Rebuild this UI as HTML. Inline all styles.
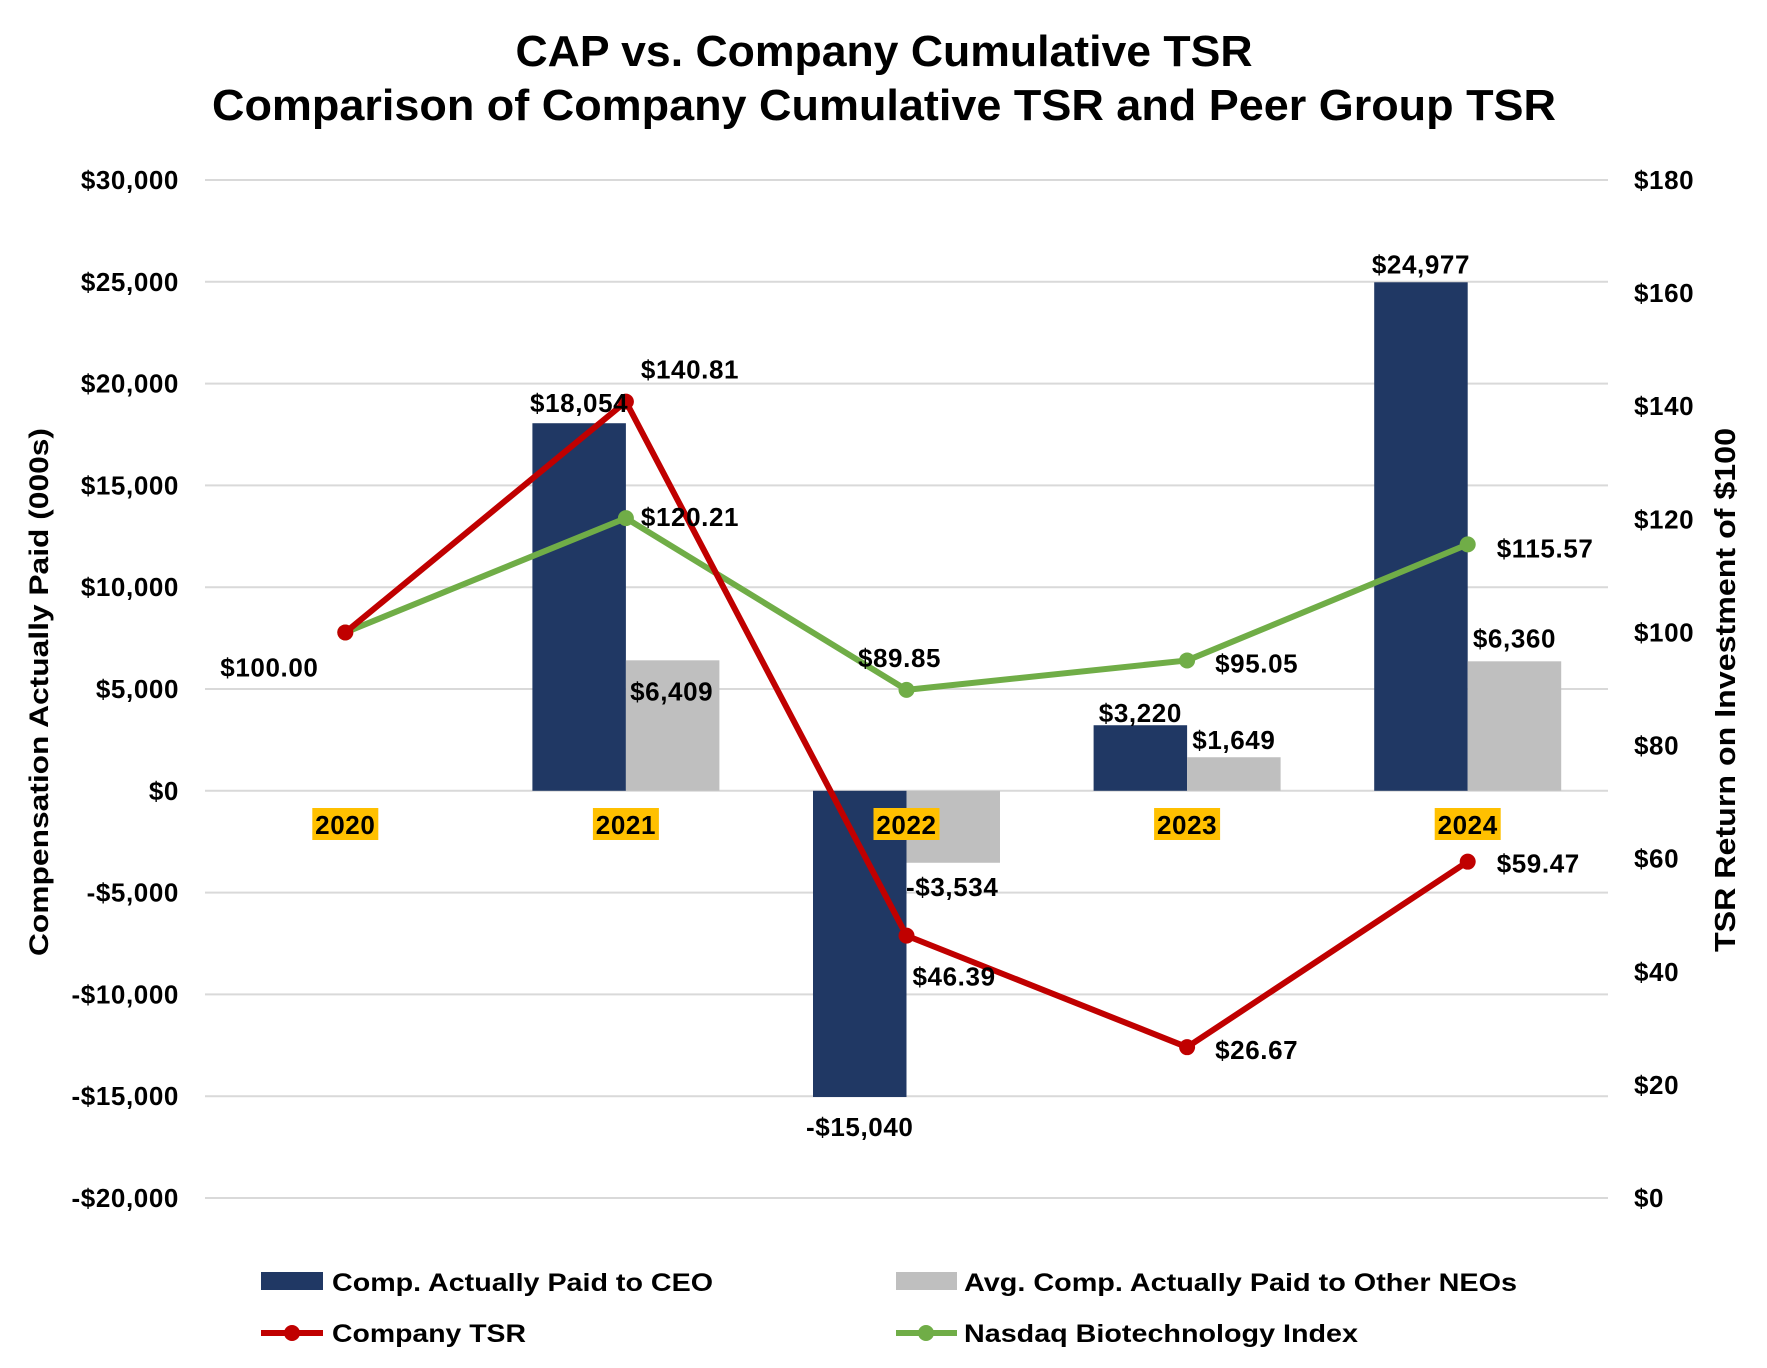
<!DOCTYPE html>
<html><head><meta charset="utf-8"><style>
html,body{margin:0;padding:0;background:#fff;}
svg{display:block;font-family:"Liberation Sans",Arial,sans-serif;font-weight:bold;}
</style></head><body>
<svg id="chart" width="1767" height="1368" viewBox="0 0 1767 1368" xmlns="http://www.w3.org/2000/svg">
<text x="884" y="66" font-size="44" text-anchor="middle" textLength="737" lengthAdjust="spacingAndGlyphs">CAP vs. Company Cumulative TSR</text>
<text x="884" y="120" font-size="44" text-anchor="middle" textLength="1344" lengthAdjust="spacingAndGlyphs">Comparison of Company Cumulative TSR and Peer Group TSR</text>
<g id="grid"></g><g id="bars"></g><g id="lines"></g><g id="labels" letter-spacing="0.6"></g><g id="axes" letter-spacing="0.6"></g>
<text transform="translate(48,692) rotate(-90)" font-size="27" text-anchor="middle" textLength="528" lengthAdjust="spacingAndGlyphs">Compensation Actually Paid (000s)</text>
<text transform="translate(1735,690) rotate(-90)" font-size="29" text-anchor="middle" textLength="524" lengthAdjust="spacingAndGlyphs">TSR Return on Investment of $100</text>
<g>
<rect x="261" y="1272" width="62" height="18" fill="#203864"/>
<text x="332" y="1291" font-size="25" textLength="381" lengthAdjust="spacingAndGlyphs">Comp. Actually Paid to CEO</text>
<rect x="896" y="1272" width="61" height="18" fill="#bfbfbf"/>
<text x="964" y="1291" font-size="25" textLength="553" lengthAdjust="spacingAndGlyphs">Avg. Comp. Actually Paid to Other NEOs</text>
<line x1="261" y1="1333" x2="323" y2="1333" stroke="#c00000" stroke-width="6"/>
<circle cx="292" cy="1333" r="8" fill="#c00000"/>
<text x="332" y="1342" font-size="25" textLength="194" lengthAdjust="spacingAndGlyphs">Company TSR</text>
<line x1="896" y1="1333" x2="957" y2="1333" stroke="#70ad47" stroke-width="6"/>
<circle cx="926" cy="1333" r="8" fill="#70ad47"/>
<text x="964" y="1342" font-size="25" textLength="394" lengthAdjust="spacingAndGlyphs">Nasdaq Biotechnology Index</text>
</g>
</svg>
<script>
const categories = ["2020","2021","2022","2023","2024"];
const ceoCap = [null, 18054, -15040, 3220, 24977];
const neoCap = [null, 6409, -3534, 1649, 6360];
const companyTsr = [100.00, 140.81, 46.39, 26.67, 59.47];
const nasdaqTsr = [100.00, 120.21, 89.85, 95.05, 115.57];
const leftTicks = [30000,25000,20000,15000,10000,5000,0,-5000,-10000,-15000,-20000];
const rightTicks = [180,160,140,120,100,80,60,40,20,0];

const NS="http://www.w3.org/2000/svg";
const plotL=205, plotR=1608, plotT=180, plotB=1198;
const yL = v => plotT + (30000 - v) / 50000 * (plotB - plotT);
const yR = v => plotB - v / 180 * (plotB - plotT);
const xC = i => plotL + (i + 0.5) * (plotR - plotL) / categories.length;
const bw = 93.5;
const FS = 26;
function mk(tag, attrs, parent){const e=document.createElementNS(NS,tag);for(const k in attrs)e.setAttribute(k,attrs[k]);document.getElementById(parent).appendChild(e);return e;}
const fmtK = v => (v<0?"-":"")+"$"+Math.abs(v).toLocaleString("en-US");
const fmtT = v => "$"+v.toFixed(2);

leftTicks.forEach(v=>{
  const g=mk("line",{x1:plotL,x2:plotR,y1:yL(v),y2:yL(v),stroke:"#d9d9d9","stroke-width":2},"grid");
  
  
  const t=mk("text",{x:179,y:yL(v)+9,"font-size":FS,"text-anchor":"end"},"axes");
  t.textContent=fmtK(v);
  
  
});
rightTicks.forEach(v=>{
  const t=mk("text",{x:1634,y:yR(v)+9,"font-size":FS},"axes");
  t.textContent="$"+v;
  
  
});

const ceoLab=[null,[0,-11],[0,39],[0,-3],[0,-9]];
const neoLab=[null,[-1,40],[-1,33],[0,-8],[0,-14]];
categories.forEach((c,i)=>{
  const cx=xC(i);
  if(ceoCap[i]!==null){
    const v=ceoCap[i],y0=yL(0),y1=yL(v);
    const r=mk("rect",{x:cx-bw,y:Math.min(y0,y1),width:bw,height:Math.abs(y1-y0),fill:"#203864"},"bars");
    
    
    const t=mk("text",{x:cx-bw/2+ceoLab[i][0],y:y1+ceoLab[i][1],"font-size":FS,"text-anchor":"middle"},"labels");
    t.textContent=fmtK(v);
    
    
  }
  if(neoCap[i]!==null){
    const v=neoCap[i],y0=yL(0),y1=yL(v);
    const r=mk("rect",{x:cx,y:Math.min(y0,y1),width:bw,height:Math.abs(y1-y0),fill:"#bfbfbf"},"bars");
    
    
    const t=mk("text",{x:cx+bw/2+neoLab[i][0],y:y1+neoLab[i][1],"font-size":FS,"text-anchor":"middle"},"labels");
    t.textContent=fmtK(v);
    
    
  }
  const b=mk("rect",{x:cx-33,y:808,width:66,height:32,fill:"#ffc000"},"labels");
  
  
  const yt=mk("text",{x:cx,y:834,"font-size":FS,"text-anchor":"middle"},"labels");
  yt.textContent=c;
  
  
});

function series(vals,color,name,labOff){
  const pts=vals.map((v,i)=>xC(i)+","+yR(v)).join(" ");
  const pl=mk("polyline",{points:pts,fill:"none",stroke:color,"stroke-width":6,"stroke-linejoin":"round"},"lines");
  
  
  vals.forEach((v,i)=>{
    const c=mk("circle",{cx:xC(i),cy:yR(v),r:8,fill:color},"lines");
    
    
    if(labOff[i]){
      const t=mk("text",{x:xC(i)+labOff[i][0],y:yR(v)+labOff[i][1],"font-size":FS,"text-anchor":labOff[i][2]||"start"},"labels");
      t.textContent=fmtT(v);
      
      
    }
  });
}
series(nasdaqTsr,"#70ad47","nasdaq",[null,[15,8],[-7,-23,"middle"],[28,12],[29,13]]);
series(companyTsr,"#c00000","company-tsr",[[-125,44],[15,-23],[6,50],[28,12],[29,11]]);
</script>
</body></html>
